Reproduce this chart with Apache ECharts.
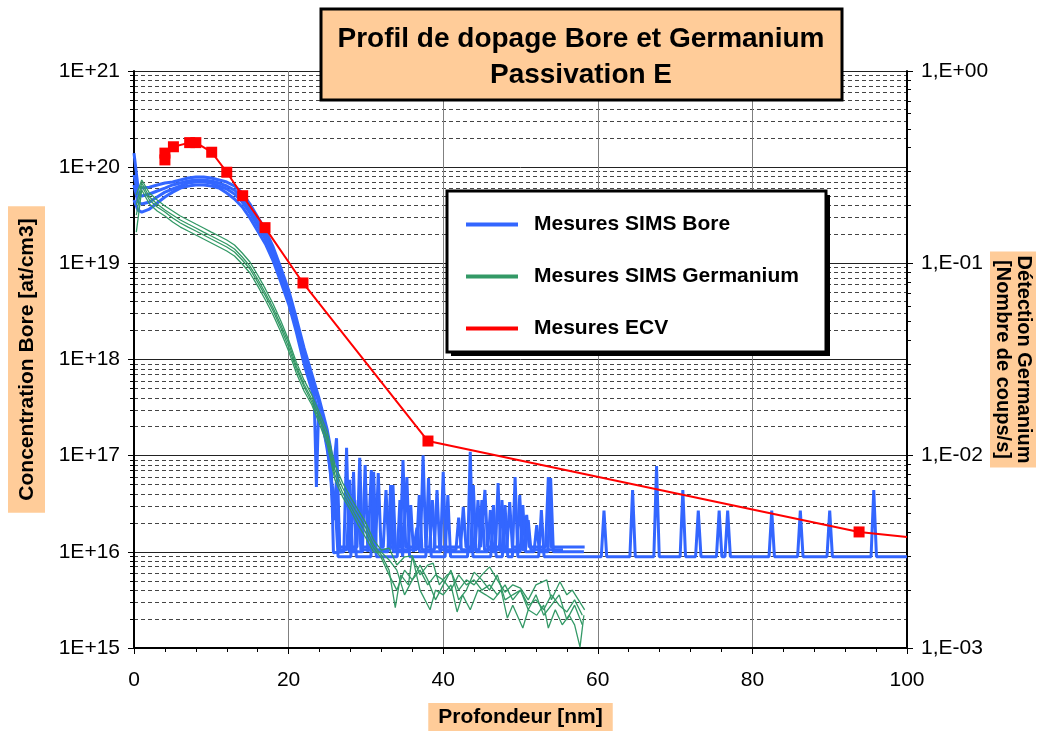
<!DOCTYPE html>
<html>
<head>
<meta charset="utf-8">
<script src="https://cdn.jsdelivr.net/npm/echarts@6/dist/echarts.min.js"></script>
<style>
  html, body { margin: 0; padding: 0; background: #fff; }
  #chart { width: 1042px; height: 731px; }
</style>
</head>
<body>
<div id="chart"></div>
<script>
// tick labels
const leftTickLabels = { 15: '1E+15', 16: '1E+16', 17: '1E+17', 18: '1E+18', 19: '1E+19', 20: '1E+20', 21: '1E+21' };
const rightTickLabels = { '-3': '1,E-03', '-2': '1,E-02', '-1': '1,E-01', '0': '1,E+00' };

// SIMS Bore, [depth nm, at/cm3]
const boreA = [
  [0,1.40e20],[0.5,6.37e19],[1,6.06e19],[2,6.2e19],[3,6.53e19],[4,6.84e19],[5,7.0e19],[6,7.36e19],[7,7.72e19],[8,7.9e19],
  [9,7.9e19],[10,7.72e19],[11,7.36e19],[12,7.0e19],[13,6.37e19],[14,5.4e19],[15,4.14e19],[16,3.03e19],[17,2.22e19],[18,1.48e19],
  [19,8.94e18],[20,5.29e18],[21,2.7e18],[22,1.32e18],[23,7.07e17],[24,3.79e17],[24.5,2.65e17],[25,1.85e17],[25.4,1.24e17],[25.8,7.1e16],
  [26.2,1.52e17],[26.6,1.12e16],
  [28.85,1.12e16],[29.2,9.5e16],[29.55,1.12e16],[31.25,1.12e16],[31.6,6.6e16],[31.95,1.12e16],[32.25,1.12e16],[32.6,4.4e16],[32.95,1.12e16],
  [34.45,1.12e16],[34.8,9.0e16],[35.15,1.12e16],[37.05,1.12e16],[37.4,1.01e17],[37.75,1.12e16],[38.25,1.12e16],[38.6,3.46e16],[38.95,1.12e16],
  [42.25,1.12e16],[42.6,2.94e16],[42.95,1.12e16],[44.15,1.12e16],[44.5,3.46e16],[44.85,1.12e16],[45.05,1.12e16],[45.4,4.4e16],[45.75,1.12e16],
  [48.25,1.12e16],[48.6,3.3e16],[48.95,1.12e16],[50.45,1.12e16],[50.8,2.42e16],[51.15,1.12e16],[53.25,1.12e16],[53.6,6.0e16],[53.95,1.12e16],
  [58.3,1.12e16]
];
const boreB = [
  [0,8.29e19],[0.5,5.26e19],[1,5.01e19],[2,5.26e19],[3,5.65e19],[4,6.06e19],[5,6.53e19],[6,6.84e19],[7,7.18e19],[8,7.36e19],
  [9,7.36e19],[10,7.18e19],[11,6.84e19],[12,6.37e19],[13,5.78e19],[14,4.77e19],[15,3.67e19],[16,2.69e19],[17,1.97e19],[18,1.31e19],
  [19,7.94e18],[20,4.69e18],[21,2.4e18],[22,1.17e18],[23,6.11e17],[24,3.36e17],[24.5,2.35e17],[25,1.46e17],[25.5,9.0e16],[25.8,9.8e15],
  [27.15,1.0e16],[27.5,1.21e17],[27.85,1.0e16],[29.55,1.0e16],[29.9,8.0e16],[30.25,1.0e16],[30.35,1.0e16],[30.7,7.1e16],[31.05,1.0e16],
  [32.85,1.0e16],[33.2,4.96e16],[33.55,1.0e16],[35.45,1.0e16],[35.8,3.07e16],[36.15,1.0e16],[36.25,1.0e16],[36.6,1.78e16],[36.95,1.0e16],
  [39.65,1.0e16],[40.0,6.8e16],[40.35,1.0e16],[43.55,1.0e16],[43.9,4.96e16],[44.25,1.0e16],[45.75,1.0e16],[46.1,2.72e16],[46.45,1.0e16],
  [46.75,1.0e16],[47.1,5.2e16],[47.45,1.0e16],[49.95,1.0e16],[50.3,3.07e16],[50.65,1.0e16],[51.75,1.0e16],[52.1,1.9e16],[52.45,1.0e16],
  [53.55,1.0e16],[53.9,5.86e16],[54.25,1.0e16],[58.2,1.0e16]
];
const boreC = [
  [0,6.53e19],[0.5,4.34e19],[1,4.14e19],[2,4.34e19],[3,4.9e19],[4,5.5e19],[5,5.93e19],[6,6.37e19],[7,6.84e19],[8,7.0e19],
  [9,7.0e19],[10,6.84e19],[11,6.37e19],[12,5.93e19],[13,5.26e19],[14,4.34e19],[15,3.34e19],[16,2.44e19],[17,1.79e19],[18,1.19e19],
  [19,7.21e18],[20,4.26e18],[21,2.18e18],[22,1.01e18],[23,5.43e17],[23.3,4.27e17],[23.6,4.73e16],[23.9,3.36e17],[24.5,1.85e17],[25,1.29e17],
  [25.5,5.6e16],[26,3.46e16],[26.4,8.9e15],
  [28.05,8.9e15],[28.4,6.8e16],[28.75,8.9e15],[30.65,8.9e15],[31.0,6.8e16],[31.35,8.9e15],[34.05,8.9e15],[34.4,3.46e16],[34.75,8.9e15],
  [34.95,8.9e15],[35.3,6.0e16],[35.65,8.9e15],[37.75,8.9e15],[38.1,5.86e16],[38.45,8.9e15],[40.25,8.9e15],[40.6,3.9e16],[40.95,8.9e15],
  [43.15,8.9e15],[43.5,1.1e17],[43.85,8.9e15],[46.15,8.9e15],[46.5,3.07e16],[46.85,8.9e15],[47.65,8.9e15],[48.0,3.07e16],[48.35,8.9e15],
  [48.95,8.9e15],[49.3,6.0e16],[49.65,8.9e15],[52.35,8.9e15],[52.7,2.72e16],[53.05,8.9e15],
  [60.45,8.9e15],[60.8,2.68e16],[61.15,8.9e15],[64.15,8.9e15],[64.5,4.4e16],[64.85,8.9e15],[67.25,8.9e15],[67.6,7.8e16],[67.95,8.9e15],
  [70.65,8.9e15],[71.0,4.4e16],[71.35,8.9e15],[72.65,8.9e15],[73.0,2.68e16],[73.35,8.9e15],[75.35,8.9e15],[75.7,2.68e16],[76.05,8.9e15],
  [76.45,8.9e15],[76.8,2.68e16],[77.15,8.9e15],[82.15,8.9e15],[82.5,2.68e16],[82.85,8.9e15],[85.85,8.9e15],[86.2,2.68e16],[86.55,8.9e15],
  [89.65,8.9e15],[90.0,2.68e16],[90.35,8.9e15],[95.35,8.9e15],[95.7,4.4e16],[96.05,8.9e15],[100,8.9e15]
];
const boreD = [
  [0,4.55e19],[0.5,3.58e19],[1,3.41e19],[2,3.67e19],[3,4.24e19],[4,4.9e19],[5,5.5e19],[6,6.06e19],[7,6.37e19],[8,6.53e19],
  [9,6.53e19],[10,6.37e19],[11,6.06e19],[12,5.38e19],[13,4.67e19],[14,3.86e19],[15,2.96e19],[16,2.17e19],[17,1.59e19],[18,1.06e19],
  [19,6.4e18],[20,3.78e18],[21,1.93e18],[22,8.98e17],[23,4.82e17],[24,2.65e17],[24.5,1.94e17],[25,1.15e17],[25.4,7.1e16],[25.8,2.14e16],
  [26.2,5.6e16],[26.6,1.05e16],
  [27.55,1.05e16],[27.9,5.6e16],[28.25,1.05e16],[28.65,1.05e16],[29.0,3.46e16],[29.35,1.05e16],[33.15,1.05e16],[33.5,4.96e16],[33.85,1.05e16],
  [36.55,1.05e16],[36.9,3.9e16],[37.25,1.05e16],[38.85,1.05e16],[39.2,4.4e16],[39.55,1.05e16],[41.65,1.05e16],[42.0,2.27e16],[42.35,1.05e16],
  [44.65,1.05e16],[45.0,3.46e16],[45.35,1.05e16],[47.25,1.05e16],[47.6,3.46e16],[47.95,1.05e16],[49.55,1.05e16],[49.9,3.9e16],[50.25,1.05e16],
  [50.65,1.05e16],[51.0,2.14e16],[51.35,1.05e16],[55.5,1.05e16]
];

// SIMS Germanium, [depth nm, coups/s] (right axis)
const gerA = [
  [0.3,0.2265],[1,0.2713],[2,0.232],[3,0.2134],[4,0.1986],[5,0.187],[6,0.1762],[7,0.168],[8,0.1601],[9,0.1527],
  [10,0.1454],[11,0.1387],[12,0.1322],[13,0.1246],[14,0.1132],[15,0.1016],[16,0.087],[17,0.0736],[18,0.0615],[19,0.0501],
  [20,0.0399],[21,0.0306],[22,0.0247],[23,0.0207],[24,0.0167],[25,0.0133],[26,0.00895],[27,0.00721],[28,0.00609],[29,0.00522],
  [30,0.00447],[31,0.00364],[32,0.00323],[33,0.00331],[34,0.0027],[35,0.00298],[36,0.00301],[37,0.0024],[38,0.0027],[38.7,0.00276],
  [39.5,0.00213],[40.5,0.0024],[41.1,0.00246],[42,0.002],[43,0.00226],[44,0.00213],[45,0.0024],[46,0.00264],[47,0.00226],[48,0.00195],
  [49,0.00213],[50,0.00205],[51,0.00178],[52,0.00213],[53.4,0.00226],[54,0.00178],[55.1,0.00221],[56,0.00189],[56.7,0.002],[57.5,0.00178],
  [58.3,0.00158]
];
const gerB = [
  [0.3,0.201],[1,0.2617],[2,0.2211],[3,0.2034],[4,0.1893],[5,0.1783],[6,0.168],[7,0.1601],[8,0.1527],[9,0.1454],
  [10,0.1387],[11,0.1322],[12,0.1261],[13,0.1187],[14,0.1079],[15,0.0968],[16,0.0829],[17,0.0701],[18,0.0586],[19,0.0478],
  [20,0.0385],[21,0.0292],[22,0.0235],[23,0.0197],[24,0.0159],[25,0.0125],[26,0.00842],[27,0.00679],[28,0.00574],[29,0.00492],
  [30,0.00421],[31,0.00343],[32,0.00305],[33,0.00254],[33.8,0.00162],[34.5,0.0024],[35.5,0.00213],[36,0.00301],[37,0.002],[38.3,0.00158],
  [39,0.002],[40,0.00189],[41,0.00213],[41.8,0.00154],[42.5,0.00189],[43.5,0.00158],[44.5,0.002],[45.5,0.00189],[46.5,0.00178],[47.5,0.002],
  [48.3,0.00143],[49,0.00167],[50.3,0.00127],[51,0.00158],[52.1,0.00148],[53,0.00167],[53.6,0.00127],[54.5,0.00158],[55.4,0.00132],[56.3,0.00148],
  [57,0.00132],[57.7,0.00101],[58.2,0.00148]
];
const gerC = [
  [0.3,0.1783],[1,0.2524],[2,0.2134],[3,0.1962],[4,0.1848],[5,0.172],[6,0.1621],[7,0.1544],[8,0.1472],[9,0.1404],
  [10,0.1338],[11,0.1276],[12,0.1216],[13,0.1145],[14,0.1041],[15,0.0934],[16,0.0799],[17,0.0677],[18,0.0565],[19,0.0461],
  [20,0.0367],[21,0.0282],[22,0.0228],[23,0.019],[24,0.0153],[25,0.0121],[26,0.00793],[27,0.0064],[28,0.00547],[29,0.00463],
  [30,0.00397],[31,0.00331],[32,0.00294],[33,0.0024],[34,0.002],[35,0.00254],[36,0.00226],[37,0.00254],[38,0.00213],[39,0.0024],
  [40,0.00226],[41,0.002],[42,0.0024],[43,0.00213],[44,0.00226],[45,0.002],[46,0.00213],[47,0.00189],[48,0.00213],[49,0.00178],
  [50,0.002],[51,0.00167],[52,0.00178],[53,0.00158],[54,0.00189],[55,0.00167],[56,0.00154],[57,0.00178],[58,0.00148]
];
const gerD = [
  [0.3,0.1454],[1,0.2405],[2,0.2034],[3,0.187],[4,0.1762],[5,0.164],[6,0.1544],[7,0.1472],[8,0.1404],[9,0.1338],
  [10,0.1276],[11,0.1216],[12,0.1159],[13,0.1092],[14,0.0992],[15,0.0891],[16,0.0763],[17,0.0645],[18,0.0539],[19,0.0439],
  [20,0.035],[21,0.0269],[22,0.0217],[23,0.0184],[24,0.0146],[25,0.0114],[26,0.00747],[27,0.00609],[28,0.00522],[29,0.00436],
  [30,0.00373],[31,0.00315],[32,0.00315],[33,0.00287],[34,0.00254],[35,0.00189],[36,0.00226],[37,0.0027],[38,0.00226],[39,0.00178],
  [40,0.00213],[41,0.00254],[42,0.00178],[43,0.002],[44,0.00248],[45,0.00226],[46,0.002],[47,0.0024],[48,0.00178],[49,0.00189],
  [50,0.002],[51,0.00158],[52,0.00189],[53,0.00148],[54,0.00167],[55,0.00189],[56,0.0014],[57,0.00167],[58,0.00132]
];

// ECV, [depth nm, at/cm3]
const ecv = [
  [4.0,1.19e20],[4.0,1.40e20],[5.1,1.63e20],[7.2,1.80e20],[8.0,1.80e20],[10.05,1.43e20],[12.0,8.86e19],
  [14.06,5.05e19],[16.95,2.35e19],[21.86,6.25e18],[38.03,1.42e17],[93.8,1.61e16],[100,1.43e16]
];

const FONT = "'Liberation Sans', Arial, sans-serif";
const BLUE = '#3366ff';
const GREEN = '#339966';
const RED = '#ff0000';
const ORANGE = '#ffcc99';

const chart = echarts.init(document.getElementById('chart'));

const boreSeries = data => ({
  name: 'Mesures SIMS Bore',
  type: 'line',
  data: data,
  yAxisIndex: 0,
  symbol: 'none',
  color: BLUE,
  lineStyle: { color: BLUE, width: 3 },
  z: 3,
});

const gerSeries = data => ({
  name: 'Mesures SIMS Germanium',
  type: 'line',
  data: data,
  yAxisIndex: 1,
  symbol: 'none',
  color: GREEN,
  lineStyle: { color: GREEN, width: 1.3 },
  z: 4,
});

const ecvData = ecv.map((p, i) => (i === ecv.length - 1 ? { value: p, symbol: 'none' } : p));

const option = {
  animation: false,
  textStyle: { fontFamily: FONT },
  grid: { left: 134, right: 135, top: 71, bottom: 83, outerBoundsMode: 'none', containLabel: false },
  xAxis: {
    type: 'value',
    min: 0,
    max: 100,
    interval: 20,
    name: 'Profondeur [nm]',
    nameLocation: 'middle',
    nameGap: 55,
    nameTextStyle: {
      fontFamily: FONT, fontSize: 21, fontWeight: 'bold', color: '#000',
      backgroundColor: ORANGE, padding: [4, 10, 4, 10],
    },
    axisLine: { lineStyle: { color: '#000', width: 2 } },
    axisTick: { length: 6, lineStyle: { color: '#000' } },
    minorTick: { show: true, splitNumber: 5, length: 4, lineStyle: { color: '#000' } },
    axisLabel: { fontFamily: FONT, fontSize: 21, color: '#000', margin: 22 },
    splitLine: { show: true, lineStyle: { color: '#808080', width: 1 } },
  },
  yAxis: [
    {
      type: 'log',
      logBase: 10,
      min: 1e15,
      max: 1e21,
      splitNumber: 6,
      position: 'left',
      name: 'Concentration Bore [at/cm3]',
      nameLocation: 'middle',
      nameRotate: 90,
      nameGap: 89,
      nameTextStyle: {
        fontFamily: FONT, fontSize: 21, fontWeight: 'bold', color: '#000',
        backgroundColor: ORANGE, padding: [9, 12, 7, 12],
      },
      axisLine: { show: true, lineStyle: { color: '#000', width: 2 } },
      axisTick: { show: true, length: 6, lineStyle: { color: '#000' } },
      minorTick: { show: true, splitNumber: 9, length: 4, lineStyle: { color: '#000' } },
      axisLabel: {
        fontFamily: FONT, fontSize: 21, color: '#000', margin: 14,
        formatter: v => leftTickLabels[Math.round(Math.log10(v))] || '',
      },
      splitLine: { show: true, lineStyle: { color: '#222', width: 1 } },
      minorSplitLine: { show: true, lineStyle: { color: '#444', width: 1, type: [4, 3] } },
    },
    {
      type: 'log',
      logBase: 10,
      min: 1e-3,
      max: 1,
      splitNumber: 3,
      position: 'right',
      name: 'Détection Germanium\n[Nombre de coups/s]',
      nameLocation: 'middle',
      nameRotate: -90,
      nameGap: 83,
      nameMoveOverlap: false,
      nameTextStyle: {
        fontFamily: FONT, fontSize: 20, fontWeight: 'bold', color: '#000', lineHeight: 21,
        backgroundColor: ORANGE, padding: [2, 4, 2, 4],
      },
      axisLine: { show: true, lineStyle: { color: '#000', width: 2 } },
      axisTick: { show: true, length: 6, lineStyle: { color: '#000' } },
      minorTick: { show: true, splitNumber: 9, length: 4, lineStyle: { color: '#000' } },
      axisLabel: {
        fontFamily: FONT, fontSize: 21, color: '#000', margin: 14,
        formatter: v => rightTickLabels[String(Math.round(Math.log10(v)))] || '',
      },
      splitLine: { show: false },
    },
  ],
  legend: {
    data: ['Mesures SIMS Bore', 'Mesures SIMS Germanium', 'Mesures ECV'],
    orient: 'vertical',
    left: 466,
    top: 214,
    icon: 'rect',
    itemWidth: 52,
    itemHeight: 4,
    itemGap: 31,
    padding: 0,
    z: 20,
    textStyle: { fontFamily: FONT, fontSize: 21, fontWeight: 'bold', color: '#000', lineHeight: 20, padding: [0, 0, 0, 11] },
  },
  graphic: [
    { type: 'rect', z: 15, shape: { x: 451, y: 195, width: 379, height: 161 }, style: { fill: '#000' } },
    { type: 'rect', z: 16, shape: { x: 447, y: 191, width: 379, height: 161 }, style: { fill: '#fff', stroke: '#000', lineWidth: 3 } },
    { type: 'rect', z: 16, shape: { x: 321, y: 9, width: 521, height: 91 }, style: { fill: ORANGE, stroke: '#000', lineWidth: 3 } },
    {
      type: 'text', z: 17, x: 581, y: 57,
      style: {
        text: 'Profil de dopage Bore et Germanium\nPassivation E',
        font: 'bold 28px ' + FONT, fill: '#000', align: 'center', verticalAlign: 'middle', lineHeight: 36,
      },
    },
  ],
  series: [
    boreSeries(boreA), boreSeries(boreB), boreSeries(boreC), boreSeries(boreD),
    gerSeries(gerA), gerSeries(gerB), gerSeries(gerC), gerSeries(gerD),
    {
      name: 'Mesures ECV',
      type: 'line',
      data: ecvData,
      yAxisIndex: 0,
      symbol: 'rect',
      symbolSize: 11,
      showAllSymbol: true,
      color: RED,
      lineStyle: { color: RED, width: 2 },
      z: 5,
    },
  ],
};

chart.setOption(option);
</script>
</body>
</html>
